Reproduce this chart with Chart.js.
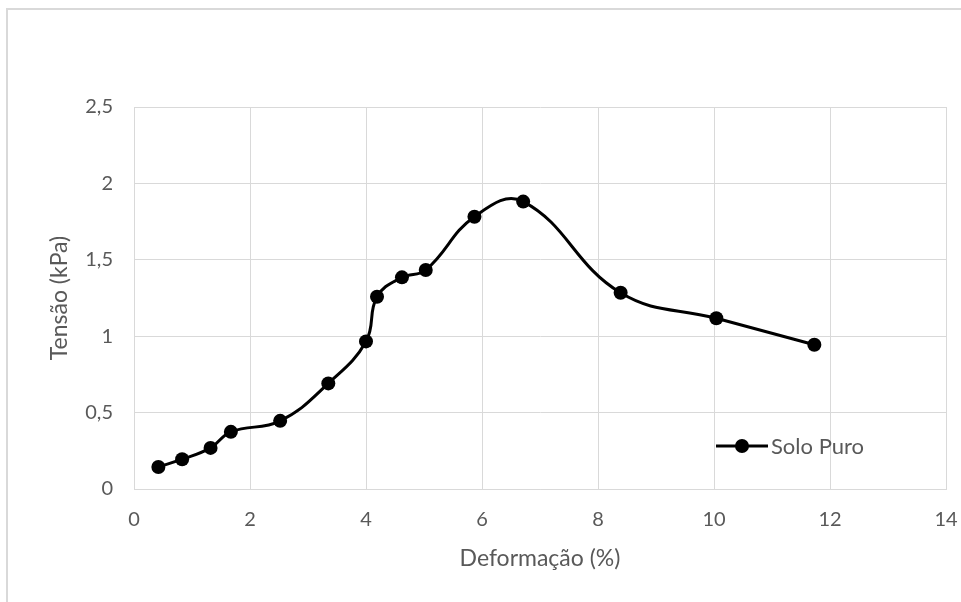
<!DOCTYPE html>
<html>
<head>
<meta charset="utf-8">
<script src="https://cdn.jsdelivr.net/npm/chart.js@4"></script>
<style>
    html, body { margin: 0; padding: 0; background: #ffffff; }
    #wrap { width: 961px; height: 602px; position: relative; }
</style>
</head>
<body>
<div id="wrap"><canvas id="tensionChart"></canvas></div>
<script>
const deformacao = [0.42, 0.83, 1.32, 1.67, 2.52, 3.35, 4.0, 4.19, 4.62, 5.03, 5.87, 6.71, 8.39, 10.04, 11.73];
const tensao = [0.144, 0.195, 0.269, 0.374, 0.446, 0.691, 0.966, 1.258, 1.385, 1.433, 1.782, 1.881, 1.284, 1.117, 0.944];
const xTicks = [0, 2, 4, 6, 8, 10, 12, 14];
const yTicks = [0, 0.5, 1, 1.5, 2, 2.5];
const seriesName = 'Solo Puro';

const textColor = '#595959';
const gridColor = '#d9d9d9';
const fontFamily = 'Lato, "Open Sans", sans-serif';

// outer frame + legend drawn inside the plot area
const framePlugin = {
    id: 'frame',
    beforeDraw(chart) {
        const ctx = chart.ctx;
        ctx.save();
        ctx.strokeStyle = '#d9d9d9';
        ctx.lineWidth = 2;
        ctx.strokeRect(7, 9, 1000, 1000);
        ctx.restore();
    },
    afterDraw(chart) {
        const ctx = chart.ctx;
        const area = chart.chartArea;
        const y = area.top + 339;
        const x0 = area.left + 582;
        ctx.save();
        ctx.strokeStyle = '#000000';
        ctx.lineWidth = 3;
        ctx.beginPath();
        ctx.moveTo(x0, y);
        ctx.lineTo(x0 + 52, y);
        ctx.stroke();
        ctx.fillStyle = '#000000';
        ctx.beginPath();
        ctx.arc(x0 + 26, y, 7, 0, Math.PI * 2);
        ctx.fill();
        ctx.fillStyle = textColor;
        ctx.font = '22px ' + fontFamily;
        ctx.textBaseline = 'middle';
        ctx.fillText(seriesName, x0 + 55, y + 1);
        ctx.restore();
    }
};

const ctx = document.getElementById('tensionChart').getContext('2d');

new Chart(ctx, {
    type: 'line',
    data: {
        datasets: [{
            label: seriesName,
            data: deformacao.map((x, i) => ({ x: x, y: tensao[i] })),
            borderColor: '#000000',
            backgroundColor: '#000000',
            borderWidth: 3,
            pointRadius: 7,
            pointHoverRadius: 7,
            pointBackgroundColor: '#000000',
            pointBorderWidth: 0,
            tension: 0.42,
            fill: false
        }]
    },
    options: {
        responsive: true,
        maintainAspectRatio: false,
        animation: false,
        layout: {
            padding: { left: 0, top: 107, right: 15, bottom: 0 }
        },
        plugins: {
            legend: { display: false },
            tooltip: { enabled: false }
        },
        scales: {
            x: {
                type: 'linear',
                min: 0,
                max: 14,
                afterBuildTicks: (scale) => {
                    scale.ticks = xTicks.map(v => ({ value: v }));
                },
                afterFit: (scale) => {
                    scale.height = 113;
                    scale.paddingLeft = 0;
                    scale.paddingRight = 0;
                },
                grid: { color: gridColor, lineWidth: 1, drawTicks: false },
                border: { color: gridColor, width: 1 },
                ticks: {
                    color: textColor,
                    font: { family: fontFamily, size: 20 },
                    padding: 19
                },
                title: {
                    display: true,
                    text: 'Deformação (%)',
                    color: textColor,
                    font: { family: fontFamily, size: 23 },
                    padding: { top: 0, bottom: 30 }
                }
            },
            y: {
                type: 'linear',
                min: 0,
                max: 2.5,
                afterBuildTicks: (scale) => {
                    scale.ticks = yTicks.map(v => ({ value: v }));
                },
                afterFit: (scale) => { scale.width = 134; },
                grid: { color: gridColor, lineWidth: 1, drawTicks: false },
                border: { color: gridColor, width: 1 },
                ticks: {
                    color: textColor,
                    font: { family: fontFamily, size: 20 },
                    padding: 21,
                    callback: (v) => String(v).replace('.', ',')
                },
                title: {
                    display: true,
                    text: 'Tensão (kPa)',
                    color: textColor,
                    font: { family: fontFamily, size: 23 },
                    padding: { top: 46, bottom: 0 }
                }
            }
        }
    },
    plugins: [framePlugin]
});
</script>
</body>
</html>
